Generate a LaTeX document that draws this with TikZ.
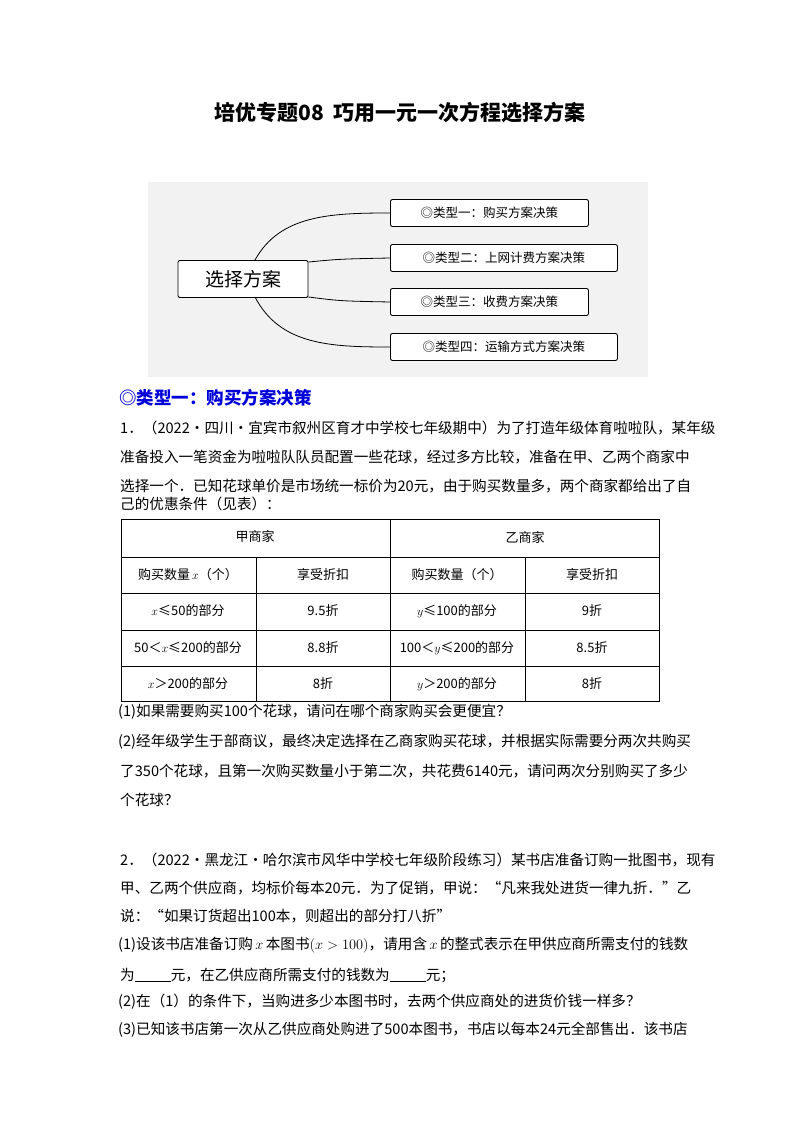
\documentclass[tikz,border=0pt]{standalone}
\usepackage{fontspec}
\setmainfont{Noto Sans CJK SC}
\begin{document}
\begin{tikzpicture}[x=1pt,y=-1pt,
  ln/.style={anchor=west,inner sep=0pt,font=\fontsize{14.6}{17}\selectfont},
  mbox/.style={draw,rounded corners=2pt,line width=0.9pt,fill=white,inner sep=0pt,font=\fontsize{12.5}{14}\selectfont},
  cell/.style={inner sep=0pt,font=\fontsize{13}{15}\selectfont}]
\useasboundingbox (0,0) rectangle (800,1132);
\fill[white] (0,0) rectangle (800,1132);
\node[anchor=center,inner sep=0pt,font=\fontsize{21}{24}\selectfont\bfseries] (title) at (400,113) {培优专题08\ \ 巧用一元一次方程选择方案};
% mind map
\fill[gray!10] (148,182) rectangle (648,377);
\node[mbox,minimum width=130,minimum height=37,font=\fontsize{19}{21}\selectfont] (c) at (243,279) {选择方案};
\node[mbox,minimum width=198,minimum height=27,anchor=west] (b1) at (390,213) {◎类型一：购买方案决策};
\node[mbox,minimum width=227,minimum height=27,anchor=west] (b2) at (390,258) {◎类型二：上网计费方案决策};
\node[mbox,minimum width=198,minimum height=27,anchor=west] (b3) at (390,302) {◎类型三：收费方案决策};
\node[mbox,minimum width=227,minimum height=27,anchor=west] (b4) at (390,347) {◎类型四：运输方式方案决策};
\coordinate (t) at (255,260); \coordinate (bt) at (255,297);
\draw[line width=0.8pt] (t) .. controls (280,215) and (330,213) .. (b1.west);
\draw[line width=0.8pt] (c.east |- 0,262) .. controls (340,259) .. (b2.west);
\draw[line width=0.8pt] (c.east |- 0,297) .. controls (340,301) .. (b3.west);
\draw[line width=0.8pt] (bt) .. controls (280,345) and (330,347) .. (b4.west);
% heading
\node[ln,font=\fontsize{17.5}{20}\selectfont\bfseries,text=blue!85!black] (h1) at (119,398) {◎类型一：购买方案决策};
\node[ln] (p1) at (120,428) {1．（2022·四川·宜宾市叙州区育才中学校七年级期中）为了打造年级体育啦啦队，某年级};
\node[ln] (p2) at (120,457) {准备投入一笔资金为啦啦队队员配置一些花球，经过多方比较，准备在甲、乙两个商家中};
\node[ln] (p3) at (120,486) {选择一个．已知花球单价是市场统一标价为20元，由于购买数量多，两个商家都给出了自};
\node[ln] (p4) at (120,504) {己的优惠条件（见表）：};
% table
\draw[line width=0.8pt] (121,519) rectangle (659,701);
\foreach \y in {557,593,630,666} \draw[line width=0.8pt] (121,\y) -- (659,\y);
\draw[line width=0.8pt] (390,519) -- (390,701);
\draw[line width=0.8pt] (256,557) -- (256,701);
\draw[line width=0.8pt] (525,557) -- (525,701);
\node[cell] (j) at (255,537) {甲商家};
\node[cell] (yi) at (525,537) {乙商家};
\node[cell] (a1) at (188,575) {购买数量\,$x$（个）};
\node[cell] (a2) at (323,575) {享受折扣};
\node[cell] (a3) at (457,575) {购买数量（个）};
\node[cell] (a4) at (592,575) {享受折扣};
\node[cell] (b1c) at (188,611) {$x$≤50的部分};
\node[cell] (b2c) at (323,611) {9.5折};
\node[cell] (b3c) at (457,611) {$y$≤100的部分};
\node[cell] (b4c) at (592,611) {9折};
\node[cell] (c1) at (188,648) {50＜$x$≤200的部分};
\node[cell] (c2) at (323,648) {8.8折};
\node[cell] (c3) at (457,648) {100＜$y$≤200的部分};
\node[cell] (c4) at (592,648) {8.5折};
\node[cell] (d1) at (188,684) {$x$＞200的部分};
\node[cell] (d2) at (323,684) {8折};
\node[cell] (d3) at (457,684) {$y$＞200的部分};
\node[cell] (d4) at (592,684) {8折};
\node[ln] (q1) at (118,712) {(1)如果需要购买100个花球，请问在哪个商家购买会更便宜？};
\node[ln] (q2) at (118,742) {(2)经年级学生于部商议，最终决定选择在乙商家购买花球，并根据实际需要分两次共购买};
\node[ln] (q3) at (120,771) {了350个花球，且第一次购买数量小于第二次，共花费6140元，请问两次分别购买了多少};
\node[ln] (q4) at (120,800) {个花球？};
% problem 2
\node[ln] (r1) at (120,860) {2．（2022·黑龙江·哈尔滨市风华中学校七年级阶段练习）某书店准备订购一批图书，现有};
\node[ln] (r2) at (120,888) {甲、乙两个供应商，均标价每本20元．为了促销，甲说：“凡来我处进货一律九折．”乙};
\node[ln] (r3) at (120,916) {说：“如果订货超出100本，则超出的部分打八折”};
\node[ln] (r4) at (118,945) {(1)设该书店准备订购\,$x$\,本图书$\left(x>100\right)$，请用含\,$x$\,的整式表示在甲供应商所需支付的钱数};
\node[ln] (r5) at (120,975) {为\underline{\hspace{36pt}}元，在乙供应商所需支付的钱数为\underline{\hspace{36pt}}元；};
\node[ln] (r6) at (118,1002) {(2)在（1）的条件下，当购进多少本图书时，去两个供应商处的进货价钱一样多？};
\node[ln] (r7) at (118,1030) {(3)已知该书店第一次从乙供应商处购进了500本图书，书店以每本24元全部售出．该书店};
\end{tikzpicture}
\end{document}
